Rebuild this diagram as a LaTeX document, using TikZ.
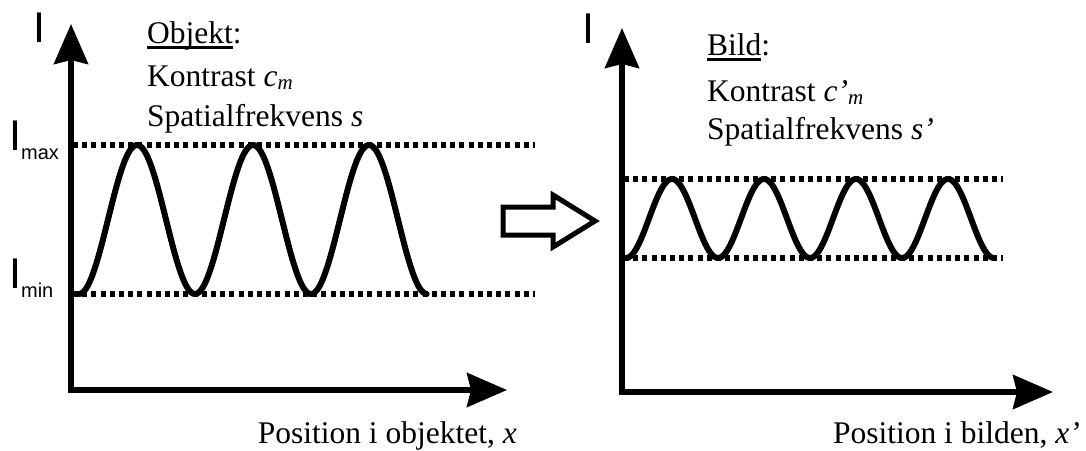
\documentclass[tikz,border=0pt]{standalone}
\usepackage{fontspec}
\setmainfont{Liberation Serif}
\newfontfamily\labelsans{Liberation Sans}
\usetikzlibrary{arrows.meta}

% thick underline for the panel titles
\newcommand\thickul[1]{\setbox0\hbox{#1}\rlap{\rule[-6pt]{\wd0}{2.8pt}}\box0}
% italic symbol with a lowered small subscript
\newcommand\symsub[2]{\textit{#1}\raisebox{-3pt}{\fontsize{21}{21}\selectfont\textit{#2}}}

\begin{document}
\begin{tikzpicture}[x=1pt,y=-1pt,
  axis/.style={line width=5.5pt, line join=miter,
    {Stealth[length=40pt,width=34pt,inset=4pt]}-{Stealth[length=40pt,width=34pt,inset=4pt]}},
  level/.style={line width=5.5pt, dash pattern=on 5pt off 4.2pt},
  wave/.style={line width=6pt, line join=round, line cap=round},
  txt/.style={font=\fontsize{31.5}{40}\selectfont, inner sep=0pt},
  ilab/.style={font=\labelsans\fontsize{43}{43}\selectfont, inner sep=0pt, anchor=base west},
  hollow/.style={line width=5pt, line join=miter},
  ]
\useasboundingbox (0,0) rectangle (1086,450);

% ---- left panel: object ----
\coordinate (O1) at (71,390);
\coordinate (Y1) at (71,24);
\coordinate (X1) at (507,390);
\coordinate (max1a) at (73,145);
\coordinate (max1b) at (535,145);
\coordinate (min1a) at (73,294);
\coordinate (min1b) at (535,294);

\draw[level] (max1a) -- (max1b);
\draw[level] (min1a) -- (min1b);
\draw[wave] plot[domain=0:3, samples=200] ({79+116*\x}, {219.5+74.5*cos(360*\x)});
\draw[axis] (Y1) -- (O1) -- (X1);

\node[ilab] (I1) at (33,42) {I};
\node[ilab] (Imax) at (9,150) {I\raisebox{-9pt}{\fontsize{20}{20}\selectfont max}};
\node[ilab] (Imin) at (9,288) {I\raisebox{-9pt}{\fontsize{20}{20}\selectfont min}};

\node[txt, anchor=base west] (obj) at (147,43) {\thickul{Objekt}:};
\node[txt, anchor=base west] (kon1) at (147,86) {Kontrast \symsub{c}{m}};
\node[txt, anchor=base west] (spa1) at (147,126) {Spatialfrekvens \textit{s}};
\node[txt, anchor=base east] (pos1) at (517,443) {Position i objektet, \textit{x}};

% ---- transfer arrow ----
\draw[hollow] (503,207) -- (553,207) -- (553,195) -- (595,221) -- (553,247)
  -- (553,235) -- (503,235) -- cycle;

% ---- right panel: image ----
\coordinate (O2) at (622,392);
\coordinate (Y2) at (622,28);
\coordinate (X2) at (1053,392);
\coordinate (max2a) at (624,179);
\coordinate (max2b) at (1003,179);
\coordinate (min2a) at (624,258);
\coordinate (min2b) at (1003,258);

\draw[level] (max2a) -- (max2b);
\draw[level] (min2a) -- (min2b);
\draw[wave] plot[domain=0:4, samples=240] ({626+92*\x}, {218.5+39.5*cos(360*\x)});
\draw[axis] (Y2) -- (O2) -- (X2);

\node[ilab] (I2) at (582,43) {I};

\node[txt, anchor=base west] (bild) at (707,55) {\thickul{Bild}:};
\node[txt, anchor=base west] (kon2) at (707,101) {Kontrast \symsub{c’}{m}};
\node[txt, anchor=base west] (spa2) at (707,139) {Spatialfrekvens \textit{s’}};
\node[txt, anchor=base east] (pos2) at (1080,443) {Position i bilden, \textit{x’}};
\end{tikzpicture}
\end{document}
